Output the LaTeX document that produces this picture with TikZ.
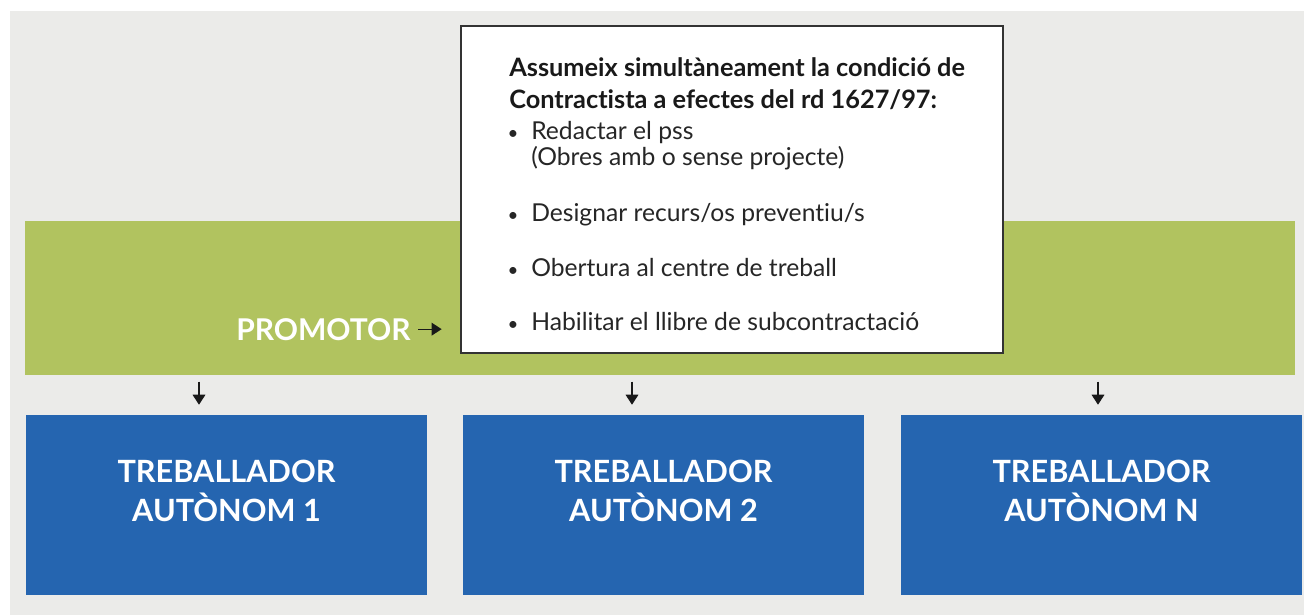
\documentclass[tikz,border=0pt]{standalone}
\usepackage{fontspec}
\setmainfont{Lato}[Ligatures={NoCommon,NoRare,NoContextual}]
\usetikzlibrary{arrows.meta}
\usetikzlibrary{positioning}
\definecolor{hellgrau}{RGB}{235,235,233}
\definecolor{olivgruen}{RGB}{177,195,95}
\definecolor{kastenblau}{RGB}{37,101,176}
\definecolor{rahmengrau}{RGB}{51,51,51}

\begin{document}
\begin{tikzpicture}[x=0.75pt, y=-0.75pt, % Pixel-Koordinaten, y nach unten
    pfeil/.style={-{Triangle[length=7.5pt,width=9.5pt]}, line width=0.9pt, black!90},
    band/.style={fill=olivgruen, minimum width=952.5pt, minimum height=115.5pt, inner sep=0pt},
    infobox/.style={fill=white, draw=rahmengrau, line width=1pt, minimum width=406.5pt, minimum height=245.25pt, inner sep=0pt},
    arbeiter/.style={fill=kastenblau, minimum width=300.75pt, minimum height=135pt, inner sep=0pt},
    arbeitertext/.style={text=white, font=\fontsize{23}{29}\selectfont\bfseries, align=center, inner sep=0pt},
    punkt/.style={anchor=base west, inner sep=0pt, font=\fontsize{18.5}{19.5}\selectfont, align=left, text=black!85}]

    \useasboundingbox (0,0) rectangle (1304,615);

    % Hintergrund
    \fill[hellgrau] (10,11) rectangle (1304,615);

    % Gruenes Band mit Promotor
    \node[band] (band) at (660,298) {};
    \node[anchor=base east, inner sep=0pt, text=white, font=\fontsize{22.5}{28}\selectfont\bfseries] (prom) at (411,340) {PROMOTOR};

    % Kasten mit den Pflichten (base = Grundlinie der letzten Zeile)
    \node[infobox] (info) at (732,189.5) {};
    \node[anchor=base west, inner sep=0pt, align=left, font=\fontsize{19}{24}\selectfont\bfseries, text=black!90] (titel) at (509,108)
        {Assumeix simultàneament la condició de\\Contractista a efectes del rd 1627/97:};
    \foreach \n/\y/\by/\txt in {a/165/139/{Redactar el pss\\(Obres amb o sense projecte)},
                                b/221/221/{Designar recurs/os preventiu/s},
                                c/276/276/{Obertura al centre de treball},
                                d/330/330/{Habilitar el llibre de subcontractació}} {
        \node[punkt] (p\n) at (531,\y) {\txt};
        \node[anchor=base, inner sep=0pt, font=\fontsize{14}{14}\selectfont, text=black!85] (b\n) at (513,\by) {•};
    }

    % Pfeil vom Promotor zum Kasten
    \draw[pfeil, shorten <=5.25pt, shorten >=14pt] (prom.east) -- (info.west |- prom.east);

    % Blaue Kaesten fuer die Selbststaendigen
    \foreach \i/\x/\ax/\lab in {1/226.5/199/1, 2/663.5/632/2, 3/1101.5/1098/N} {
        \node[arbeiter] (t\i) at (\x,505) {};
        \node[arbeitertext] (l\i) at ([yshift=10.5pt]t\i.center) {TREBALLADOR\\AUTÒNOM \lab};
        \coordinate (o\i) at (\ax,375);
        \draw[pfeil, shorten <=5pt, shorten >=7.5pt] (o\i) -- (o\i |- t\i.north);
    }
\end{tikzpicture}
\end{document}
